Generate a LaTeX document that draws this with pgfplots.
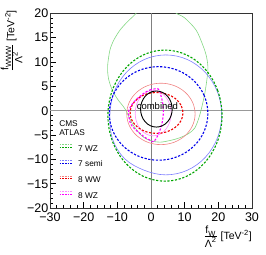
\documentclass[border=0pt]{standalone}
\usepackage{fontspec}
\setmainfont{Liberation Sans}
\usepackage{pgfplots}
\pgfplotsset{compat=1.18}
\definecolor{gd}{RGB}{0,165,0}
\definecolor{gl}{RGB}{130,215,130}
\definecolor{bd}{RGB}{0,0,235}
\definecolor{bl}{RGB}{125,125,255}
\definecolor{rd}{RGB}{240,0,0}
\definecolor{rl}{RGB}{240,130,130}
\definecolor{md}{RGB}{255,0,255}
\definecolor{ml}{RGB}{255,140,255}
\tikzset{
  dk/.style={line width=1.1pt, dash pattern=on 2.2pt off 1.6pt},
  lt/.style={line width=0.6pt},
}
\newcommand{\sm}[1]{\mbox{\fontsize{7.5}{7.5}\selectfont #1}}
\begin{document}
\begin{tikzpicture}
\useasboundingbox (-50pt,-47pt) rectangle (216pt,208pt);
\begin{axis}[
  at={(0pt,0pt)}, anchor=south west,
  scale only axis, width=202pt, height=195pt,
  xmin=-30, xmax=30, ymin=-20, ymax=20,
  xtick={-30,-20,-10,0,10,20,30},
  ytick={-20,-15,-10,-5,0,5,10,15,20},
  xticklabels={−30,−20,−10,0,10,20,30},
  yticklabels={−20,−15,−10,−5,0,5,10,15,20},
  minor x tick num=4, minor y tick num=4,
  tick pos=left,
  major tick length=6pt, minor tick length=3pt,
  tick style={black, line width=0.5pt},
  axis line style={black!80, line width=0.6pt},
  ticklabel style={font=\fontsize{12.5}{12.5}\selectfont},
  xticklabel style={inner xsep=1pt, inner ysep=0pt, text height=9pt, text depth=0pt, yshift=-4.5pt},
  yticklabel style={inner xsep=1pt, inner ysep=0pt, text height=9pt, text depth=0pt, xshift=-0.5pt},
  xlabel={$\frac{\mbox{f}_{\sm{W}}}{\mbox{Λ}^{\sm{2}}}$ [TeV$^{\sm{-2}}$]},
  ylabel={$\frac{\mbox{f}_{\sm{WWW}}}{\mbox{Λ}^{\sm{2}}}$ [TeV$^{\sm{-2}}$]},
  xlabel style={at={(axis description cs:1,-0.09)}, anchor=north east, font=\fontsize{10.5}{10.5}\selectfont, inner sep=0pt},
  ylabel style={at={(axis description cs:-0.136,1.015)}, anchor=south east, font=\fontsize{10.5}{10.5}\selectfont, inner sep=0pt},
  legend style={at={(axis cs:-27.3,-6.9)}, anchor=north west, draw=none, fill=none, inner sep=0pt,
    row sep=6.7pt, column sep=6pt, font=\fontsize{8.3}{9}\selectfont,
    nodes={inner sep=0pt, text height=6pt, text depth=2pt}},
  legend cell align=left,
]
% zero lines
\addplot[forget plot, black!40, line width=1.2pt] coordinates {(-30,0) (30,0)};
\addplot[forget plot, black!50, line width=0.8pt] coordinates {(0,-20) (0,20)};

% 7 WZ expected (light green, open contour)
\addplot[forget plot, gl, lt, smooth, tension=0.5] coordinates {
(-3.5,21) (-4.6,19.8) (-7.0,18.2) (-9.2,16.5) (-11.0,14.5) (-12.2,12.4) (-12.9,9.0)
(-12.6,6.5) (-11.5,4.2) (-9.8,2.2) (-7.7,0.3) (-5.3,-3.0) (-2.4,-5.4) (0,-6.2)
(2.7,-6.5) (6.0,-6.1) (8.5,-5.6) (11.0,-4.8) (13.0,-3.6) (14.5,-0.9) (16.0,3.6)
(16.9,8.3) (16.5,11.0) (15.4,13.4) (13.4,16.5) (10.0,19.0) (7.4,20.0) (6.5,21)};
% 7 semi expected (light blue)
\addplot[forget plot, bl, lt, smooth cycle, tension=0.6] coordinates {
(21.0,-0.9) (19.74,3.81) (16.14,7.80) (10.76,10.47) (4.4,11.4) (-1.96,10.47) (-7.34,7.80)
(-10.94,3.81) (-12.2,-0.9) (-11.4,-5.9) (-7.8,-9.9) (-1.96,-12.27) (4.4,-13.2) (10.76,-12.27)
(16.14,-9.60) (19.74,-5.61)};
% 8 WW expected (light red)
\addplot[forget plot, rl, lt, smooth cycle, tension=0.6] coordinates {
(13.1,-0.7) (12.33,1.71) (10.13,3.75) (6.84,5.12) (2.95,5.6) (-0.94,5.12) (-4.23,3.75)
(-6.43,1.71) (-7.2,-0.7) (-6.43,-3.11) (-4.23,-5.15) (-0.94,-6.52) (2.95,-7.0) (6.84,-6.52)
(10.13,-5.15) (12.33,-3.11)};
% 8 WZ expected (light magenta)
\addplot[forget plot, ml, lt, smooth cycle, tension=0.6] coordinates {
(6.0,-0.55) (5.59,1.23) (4.43,2.74) (2.70,3.75) (0.65,4.1) (-1.40,3.75) (-3.13,2.74)
(-4.29,1.23) (-4.7,-0.55) (-4.29,-2.33) (-3.13,-3.84) (-1.40,-4.85) (0.65,-5.2) (2.70,-4.85)
(4.43,-3.84) (5.59,-2.33)};

% 7 WZ observed (green dashed)
\addplot[forget plot, gd, dk, smooth cycle, tension=0.6] coordinates {
(21.1,-1.05) (19.81,4.10) (16.13,8.46) (10.64,11.38) (4.15,12.4) (-2.34,11.38) (-7.83,8.46)
(-11.51,4.10) (-12.8,-1.05) (-11.51,-6.20) (-7.83,-10.56) (-2.34,-13.48) (4.15,-14.5)
(10.64,-13.48) (16.13,-10.56) (19.81,-6.20)};
% 7 semi observed (blue dashed)
\addplot[forget plot, bd, dk, smooth cycle, tension=0.6] coordinates {
(16.9,-0.6) (15.79,3.08) (12.61,6.19) (7.86,8.27) (2.25,9.0) (-3.36,8.27) (-8.11,6.19)
(-11.29,3.08) (-12.4,-0.6) (-11.29,-4.28) (-8.11,-7.39) (-3.36,-9.47) (2.25,-10.2)
(7.86,-9.47) (12.61,-7.39) (15.79,-4.28)};
% 8 WW observed (red dashed)
\addplot[forget plot, rd, dk, smooth cycle, tension=0.6] coordinates {
(9.5,-0.5) (8.90,1.11) (7.20,2.47) (4.66,3.38) (1.65,3.7) (-1.36,3.38) (-3.90,2.47)
(-5.60,1.11) (-6.2,-0.5) (-5.60,-2.11) (-3.90,-3.47) (-1.36,-4.38) (1.65,-4.7) (4.66,-4.38)
(7.20,-3.47) (8.90,-2.11)};
% 8 WZ observed (magenta dashed)
\addplot[forget plot, md, dk, smooth cycle, tension=0.5] coordinates {
(2.2,4.4) (0,4.3) (-2.0,3.6) (-3.8,2.6) (-5.5,1.4) (-6.6,0) (-6.5,-1.5) (-6.0,-2.8)
(-4.8,-3.8) (-3.3,-4.7) (-1.6,-5.6) (0,-6.2) (0.8,-6.4) (1.9,-5.3) (2.8,-3.8) (3.4,-2.2)
(3.7,0) (3.4,1.8) (2.9,3.2)};
% combined
\addplot[forget plot, black, line width=0.9pt, smooth cycle, tension=0.6] coordinates {
(6.3,0.3) (5.94,1.72) (4.92,2.92) (3.40,3.72) (1.6,4.0) (-0.20,3.72) (-1.72,2.92)
(-2.74,1.72) (-3.1,0.3) (-2.74,-1.12) (-1.72,-2.32) (-0.20,-3.12) (1.6,-3.4) (3.40,-3.12)
(4.92,-2.32) (5.94,-1.12)};

\node[font=\fontsize{9.5}{9.5}\selectfont, inner sep=0pt] at (axis cs:1.9,0.85) {combined};
\node[anchor=west, font=\fontsize{8.3}{9}\selectfont, inner sep=0pt] at (axis cs:-27.3,-2.6) {CMS};
\node[anchor=west, font=\fontsize{8.3}{9}\selectfont, inner sep=0pt] at (axis cs:-27.3,-4.6) {ATLAS};

\addlegendimage{legend image code/.code={
  \draw[gl, line width=0.8pt, dash pattern=on 1.6pt off 1pt] (0pt,4.5pt) -- (12pt,4.5pt);
  \draw[gd, line width=0.9pt, dash pattern=on 1.6pt off 1pt] (0pt,1.5pt) -- (12pt,1.5pt);}}
\addlegendentry{7 WZ}
\addlegendimage{legend image code/.code={
  \draw[bl, line width=0.8pt, dash pattern=on 1.6pt off 1pt] (0pt,4.5pt) -- (12pt,4.5pt);
  \draw[bd, line width=0.9pt, dash pattern=on 1.6pt off 1pt] (0pt,1.5pt) -- (12pt,1.5pt);}}
\addlegendentry{7 semi}
\addlegendimage{legend image code/.code={
  \draw[rl, line width=0.8pt, dash pattern=on 1.6pt off 1pt] (0pt,4.5pt) -- (12pt,4.5pt);
  \draw[rd, line width=0.9pt, dash pattern=on 1.6pt off 1pt] (0pt,1.5pt) -- (12pt,1.5pt);}}
\addlegendentry{8 WW}
\addlegendimage{legend image code/.code={
  \draw[ml, line width=0.8pt, dash pattern=on 1.6pt off 1pt] (0pt,4.5pt) -- (12pt,4.5pt);
  \draw[md, line width=0.9pt, dash pattern=on 1.6pt off 1pt] (0pt,1.5pt) -- (12pt,1.5pt);}}
\addlegendentry{8 WZ}
\end{axis}
\end{tikzpicture}
\end{document}
